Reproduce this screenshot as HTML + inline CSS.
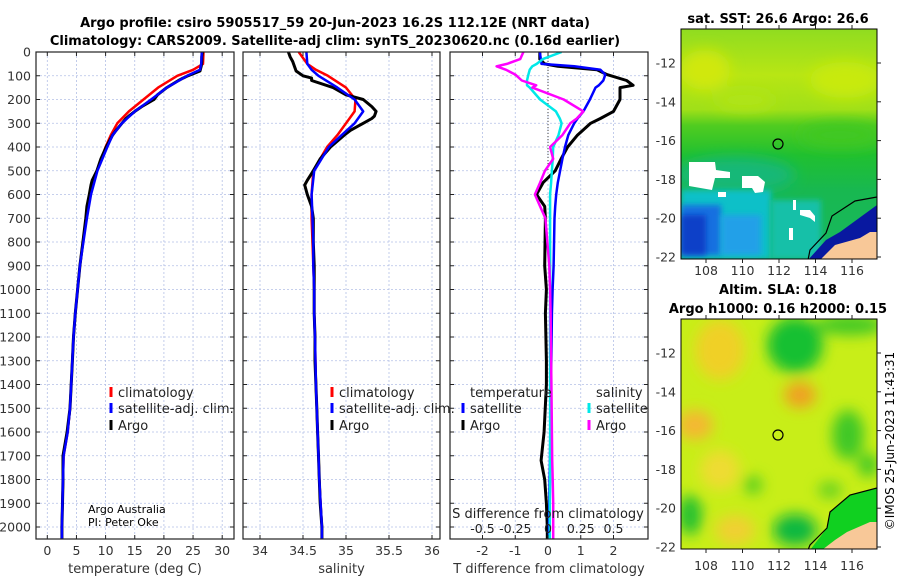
<!DOCTYPE html>
<html><head><meta charset="utf-8">
<style>
html,body{margin:0;padding:0;background:#fff;}
svg{display:block;font-family:"DejaVu Sans","Liberation Sans",sans-serif;}
</style></head>
<body>
<svg id="fig" width="900" height="580" viewBox="0 0 900 580" xmlns="http://www.w3.org/2000/svg">
<defs>
<filter id="blur6" x="-50%" y="-50%" width="200%" height="200%"><feGaussianBlur stdDeviation="7"/></filter>
<filter id="blur3" x="-50%" y="-50%" width="200%" height="200%"><feGaussianBlur stdDeviation="3"/></filter>
<linearGradient id="sstGrad" x1="0" y1="0" x2="0" y2="1">
<stop offset="0" stop-color="#90dc20"/>
<stop offset="0.2" stop-color="#b8e614"/>
<stop offset="0.35" stop-color="#a0e018"/>
<stop offset="0.42" stop-color="#50cc20"/>
<stop offset="0.55" stop-color="#20c030"/>
<stop offset="0.7" stop-color="#18b850"/>
<stop offset="1" stop-color="#18b860"/>
</linearGradient>
<clipPath id="clipTop"><rect x="681" y="29" width="196" height="230"/></clipPath>
<clipPath id="clipBot"><rect x="681" y="319" width="196" height="230"/></clipPath>
<clipPath id="clipP1"><rect x="36" y="52" width="198" height="487"/></clipPath>
<clipPath id="clipP2"><rect x="243" y="52" width="197" height="487"/></clipPath>
<clipPath id="clipP3"><rect x="450" y="52" width="198" height="487"/></clipPath>
</defs>
<text x="335" y="27" text-anchor="middle" font-size="13" font-weight="bold">Argo profile: csiro 5905517_59 20-Jun-2023 16.2S 112.12E (NRT data)</text>
<text x="335" y="45" text-anchor="middle" font-size="13" font-weight="bold">Climatology: CARS2009. Satellite-adj clim: synTS_20230620.nc (0.16d earlier)</text>
<g id="grids"></g>
<g id="series"></g>
<g id="axes"></g>

<!-- top map -->
<g>
<g clip-path="url(#clipTop)">
<rect x="681" y="29" width="196" height="230" fill="url(#sstGrad)"/>
<g filter="url(#blur6)">
<ellipse cx="705" cy="70" rx="25" ry="20" fill="#d0e810"/>
<ellipse cx="845" cy="80" rx="35" ry="18" fill="#c8ea10"/>
<ellipse cx="745" cy="100" rx="30" ry="10" fill="#b0e418"/>
<ellipse cx="735" cy="175" rx="60" ry="18" fill="#18b878"/>
<ellipse cx="840" cy="135" rx="40" ry="12" fill="#40c820"/>
</g>
<rect x="681" y="190" width="90" height="69" fill="#10c0c8" filter="url(#blur3)"/>
<rect x="681" y="205" width="40" height="50" fill="#1470e0" filter="url(#blur3)"/>
<rect x="721" y="215" width="40" height="40" fill="#20a0e8" filter="url(#blur3)"/>
<rect x="681" y="215" width="25" height="40" fill="#0a40c8" filter="url(#blur3)"/>
<rect x="771" y="200" width="50" height="59" fill="#18c0a8" filter="url(#blur3)"/>
<polygon points="877,205 877,260 808,260 826,240 840,232" fill="#0818a0"/>
<polygon points="877,232 877,260 820,260 835,245 860,238 870,232" fill="#f8c898"/>
<polyline points="877,197 855,201 832,216 826,233 810,250 808,260" fill="none" stroke="#000" stroke-width="1.2"/>
<polygon points="689,162 715,162 716,170 730,172 730,178 715,178 712,190 689,186" fill="#fff"/>
<polygon points="742,176 758,176 765,182 763,192 755,193 752,188 742,188" fill="#fff"/>
<rect x="718" y="192" width="8" height="5" fill="#fff"/>
<rect x="793" y="200" width="3" height="10" fill="#fff"/>
<polygon points="800,210 810,210 815,216 815,222 810,218 800,215" fill="#fff"/>
<rect x="789" y="228" width="4" height="12" fill="#fff"/>
<circle cx="778" cy="144" r="5" fill="none" stroke="#000" stroke-width="1.2"/>
</g>
<rect x="681" y="29" width="196" height="230" fill="none" stroke="#000" stroke-width="1"/>
<text x="778" y="23" text-anchor="middle" font-size="13" font-weight="bold">sat. SST: 26.6 Argo: 26.6</text>
</g>

<!-- bottom map -->
<g>
<g clip-path="url(#clipBot)">
<rect x="681" y="319" width="196" height="230" fill="#c8ee18"/>
<g filter="url(#blur6)">
<ellipse cx="720" cy="350" rx="25" ry="30" fill="#f0d028"/>
<ellipse cx="695" cy="425" rx="18" ry="15" fill="#f4b830"/>
<ellipse cx="800" cy="395" rx="16" ry="13" fill="#f0a020"/>
<ellipse cx="720" cy="470" rx="20" ry="20" fill="#eedc30"/>
<ellipse cx="735" cy="530" rx="20" ry="15" fill="#f0d030"/>
<ellipse cx="795" cy="345" rx="28" ry="28" fill="#18c030"/>
<ellipse cx="850" cy="325" rx="35" ry="10" fill="#40c828"/>
<ellipse cx="848" cy="435" rx="16" ry="25" fill="#40c828"/>
<ellipse cx="868" cy="465" rx="10" ry="12" fill="#40c828"/>
<ellipse cx="795" cy="530" rx="22" ry="16" fill="#10b840"/>
<ellipse cx="690" cy="515" rx="12" ry="20" fill="#20c030"/>
<ellipse cx="753" cy="485" rx="9" ry="9" fill="#50cc20"/>
<ellipse cx="830" cy="490" rx="12" ry="8" fill="#60d020"/>
</g>
<polygon points="877,488 850,495 830,512 827,528 810,550 877,550" fill="#10d020"/>
<polygon points="877,522 877,550 822,550 835,540 847,532 870,522" fill="#f8c898"/>
<polyline points="877,488 850,495 830,512 827,528 810,545 808,550" fill="none" stroke="#000" stroke-width="1.2"/>
<circle cx="778" cy="435" r="5" fill="none" stroke="#000" stroke-width="1.2"/>
</g>
<rect x="681" y="319" width="196" height="230" fill="none" stroke="#000" stroke-width="1"/>
<text x="778" y="294" text-anchor="middle" font-size="13" font-weight="bold">Altim. SLA: 0.18</text>
<text x="778" y="313" text-anchor="middle" font-size="13" font-weight="bold">Argo h1000: 0.16 h2000: 0.15</text>
</g>
<g id="mapticks"></g>
<text transform="translate(894,441) rotate(-90)" text-anchor="middle" font-size="12">©IMOS 25-Jun-2023 11:43:31</text>
</svg>
<script>
// ---- data ----
const depthTicks = [0,100,200,300,400,500,600,700,800,900,1000,1100,1200,1300,1400,1500,1600,1700,1800,1900,2000];
const tTicks = [0,5,10,15,20,25,30];
const sTicks = [34,34.5,35,35.5,36];
const dtTicks = [-2,-1,0,1,2];
const dsTicks = [-0.5,-0.25,0,0.25,0.5];
const dsTickLabels = ["-0.5","-0.25","0","0.25","0.5"];

const climDepth = [0,50,75,100,150,200,250,300,350,400,500,600,700,800,900,1000,1100,1200,1400,1500,1600,1700,1800,2000,2050];
const climTemp  = [26.8,26.7,25.0,22.3,19.0,16.5,14.0,12.0,10.9,10.0,8.5,7.4,6.7,6.1,5.6,5.2,4.8,4.5,4.1,3.9,3.5,2.8,2.7,2.5,2.5];
const satTemp   = [26.5,26.4,26.2,24.0,20.5,17.8,15.0,12.8,11.2,10.3,8.6,7.5,6.8,6.2,5.6,5.2,4.8,4.5,4.1,3.9,3.5,2.8,2.7,2.5,2.5];
const climSal   = [34.45,34.55,34.65,34.79,35.0,35.11,35.1,35.0,34.9,34.78,34.62,34.6,34.6,34.61,34.62,34.63,34.63,34.64,34.65,34.66,34.67,34.68,34.69,34.72,34.72];
const satSal    = [34.54,34.55,34.6,34.68,34.9,35.1,35.2,35.1,34.95,34.8,34.63,34.6,34.61,34.62,34.62,34.63,34.63,34.64,34.65,34.66,34.67,34.68,34.69,34.72,34.72];

const argoDepth = [0,20,40,60,80,100,110,120,150,180,200,230,250,270,280,300,330,350,400,450,500,540,560,600,650,700,800,900,1000,1100,1200,1300,1400,1500,1600,1700,1800,1900,2000,2050];
const argoTemp  = [26.6,26.5,26.5,26.4,26.2,24.1,23.3,22.5,20.5,18.9,18.3,16.2,15.0,14.0,13.5,12.8,11.8,11.2,10.1,9.2,8.5,7.7,7.5,7.2,6.8,6.6,6.1,5.6,5.2,4.8,4.5,4.3,4.1,3.9,3.4,2.7,2.7,2.6,2.5,2.5];
const argoSal   = [34.33,34.35,34.38,34.4,34.42,34.5,34.6,34.6,34.85,35.0,35.2,35.3,35.35,35.33,35.3,35.2,35.05,34.98,34.82,34.7,34.62,34.55,34.52,34.55,34.6,34.62,34.62,34.63,34.63,34.63,34.64,34.64,34.65,34.66,34.67,34.68,34.69,34.7,34.72,34.72];

const diffDepth = [0,30,50,60,75,95,120,140,150,200,250,280,300,350,400,450,500,550,600,650,700,900,1000,1100,1300,1400,1600,1720,1800,1900,2000,2050];
const argoDT    = [-0.25,-0.25,-0.1,0.3,1.5,1.8,2.4,2.6,2.2,2.2,2.0,1.6,1.3,0.9,0.6,0.4,0.22,-0.15,-0.35,-0.1,-0.08,-0.1,-0.05,-0.08,-0.05,-0.05,-0.12,-0.21,-0.1,-0.05,-0.02,-0.02];
const satDT     = [-0.25,-0.22,-0.2,0.8,1.6,1.75,1.69,1.55,1.45,1.28,1.08,0.9,0.8,0.62,0.52,0.44,0.37,0.3,0.25,0.22,0.2,0.17,0.14,0.12,0.1,0.09,0.07,0.06,0.05,0.04,0.03,0.03];
const satDS     = [0.104,-0.04,-0.086,-0.12,-0.14,-0.15,-0.16,-0.16,-0.14,-0.06,0.06,0.09,0.104,0.08,0.04,0.036,0.03,0.024,0.016,0.016,0.016,0.016,0.016,0.016,0.016,0.016,0.016,0.016,0.016,0.014,0.014,0.014];
const argoDS    = [-0.188,-0.212,-0.314,-0.392,-0.32,-0.25,-0.2,-0.09,-0.12,0.12,0.27,0.22,0.17,0.11,0.016,0.04,-0.024,-0.06,-0.1,-0.06,-0.02,0.01,0.016,0.02,0.024,0.026,0.03,0.032,0.036,0.04,0.04,0.04];

// ---- scales ----
const yD = d => 52 + d * 0.2375;
const xT = t => 47.3 + t * 5.83;
const xS = s => 260 + (s - 34) * 86;
const xDT = t => 548 + t * 32.75;
const xDS = s => 548 + s * 131;

const NS = "http://www.w3.org/2000/svg";
function mk(tag, attrs, parent) {
  const e = document.createElementNS(NS, tag);
  for (const k in attrs) e.setAttribute(k, attrs[k]);
  parent.appendChild(e);
  return e;
}
function txt(x, y, s, size, anchor, parent) {
  const t = mk("text", {x: x, y: y, "font-size": size, "text-anchor": anchor}, parent);
  t.textContent = s;
  return t;
}
const grids = document.getElementById("grids");
const series = document.getElementById("series");
const axes = document.getElementById("axes");

const panels = [
  {x0: 36, x1: 234, ticks: tTicks, fx: xT, labels: tTicks.map(String), title: "temperature (deg C)", name: "temperature-panel", clip: "clipP1"},
  {x0: 243, x1: 440, ticks: sTicks, fx: xS, labels: sTicks.map(String), title: "salinity", name: "salinity-panel", clip: "clipP2"},
  {x0: 450, x1: 648, ticks: dtTicks, fx: xDT, labels: dtTicks.map(String), title: "T difference from climatology", name: "difference-panel", clip: "clipP3"}
];
const yTop = 52, yBot = 539;

panels.forEach((p, pi) => {
  const g = mk("g", {}, grids);
  
  
  depthTicks.forEach(d => {
    mk("line", {x1: p.x0, x2: p.x1, y1: yD(d), y2: yD(d), stroke: "#b4c0e6", "stroke-width": 0.8, "stroke-dasharray": "2,2"}, g);
  });
  p.ticks.forEach(v => {
    mk("line", {x1: p.fx(v), x2: p.fx(v), y1: yTop, y2: yBot, stroke: "#b4c0e6", "stroke-width": 0.8, "stroke-dasharray": "2,2"}, g);
  });
  const a = mk("g", {}, axes);
  
  
  mk("rect", {x: p.x0, y: yTop, width: p.x1 - p.x0, height: yBot - yTop, fill: "none", stroke: "#222", "stroke-width": 1.2}, a);
  depthTicks.forEach(d => {
    mk("line", {x1: p.x0, x2: p.x0 + 4, y1: yD(d), y2: yD(d), stroke: "#222"}, a);
    mk("line", {x1: p.x1 - 4, x2: p.x1, y1: yD(d), y2: yD(d), stroke: "#222"}, a);
  });
  p.ticks.forEach((v, i) => {
    mk("line", {x1: p.fx(v), x2: p.fx(v), y1: yBot - 4, y2: yBot, stroke: "#222"}, a);
    mk("line", {x1: p.fx(v), x2: p.fx(v), y1: yTop, y2: yTop + 4, stroke: "#222"}, a);
    const t = txt(p.fx(v), 555, p.labels[i], 12.5, "middle", a);
    t.setAttribute('fill', '#333');
  });
  const tt = txt((p.x0 + p.x1) / 2, 573, p.title, 13, "middle", a);
  tt.setAttribute('fill', '#333');
  
  
});
// depth labels
depthTicks.forEach(d => {
  const t = txt(31, yD(d) + 4.5, String(d), 12.5, "end", axes);
  t.setAttribute('fill', '#333');
  
  
});
// S difference axis labels
dsTicks.forEach((v, i) => {
  const t = txt(xDS(v), 533, dsTickLabels[i], 12.5, "middle", axes);
  t.setAttribute('fill', '#222');
  
  
});
const sdt = txt(548, 518, "S difference from climatology", 13, "middle", axes);
sdt.setAttribute('fill', '#222');



function path(depths, vals, fx, color, w, name, clip) {
  const d = depths.map((dd, i) => (i ? "L" : "M") + fx(vals[i]).toFixed(1) + "," + yD(dd).toFixed(1)).join("");
  const p = mk("path", {d: d, fill: "none", stroke: color, "stroke-width": w, "stroke-linejoin": "round", "clip-path": "url(#" + clip + ")"}, series);
  
  
}
// zero line in diff panel
const zl = mk("line", {x1: xDT(0), x2: xDT(0), y1: yTop, y2: yD(500), stroke: "#444", "stroke-width": 1, "stroke-dasharray": "1,2"}, series);



path(climDepth, climTemp, xT, "#ff0000", 2.5, "temp-climatology-line", "clipP1");
path(argoDepth, argoTemp, xT, "#000", 3, "temp-argo-line", "clipP1");
path(climDepth, satTemp, xT, "#0000ff", 2.5, "temp-satellite-line", "clipP1");
path(climDepth, climSal, xS, "#ff0000", 2.5, "sal-climatology-line", "clipP2");
path(argoDepth, argoSal, xS, "#000", 3, "sal-argo-line", "clipP2");
path(climDepth, satSal, xS, "#0000ff", 2.5, "sal-satellite-line", "clipP2");
path(diffDepth, argoDT, xDT, "#000", 3, "tdiff-argo-line", "clipP3");
path(diffDepth, satDT, xDT, "#0000ff", 2.5, "tdiff-satellite-line", "clipP3");
path(diffDepth, satDS, xDS, "#00e8e8", 2.5, "sdiff-satellite-line", "clipP3");
path(diffDepth, argoDS, xDS, "#ff00ff", 2.5, "sdiff-argo-line", "clipP3");

// legends
function legEntry(mx, tx, y, color, label, name) {
  const g = mk("g", {}, axes);
  
  
  mk("rect", {x: mx - 1.5, y: y - 10, width: 3, height: 10, fill: color}, g);
  const t = txt(tx, y, label, 13, "start", g);
  t.setAttribute('fill', '#222');
}
legEntry(111, 118, 397, "#ff0000", "climatology", "legend-climatology");
legEntry(111, 118, 413, "#0000ff", "satellite-adj. clim.", "legend-satellite-adj");
legEntry(111, 118, 430, "#000", "Argo", "legend-argo");
legEntry(332, 339, 397, "#ff0000", "climatology", "legend-climatology-sal");
legEntry(332, 339, 413, "#0000ff", "satellite-adj. clim.", "legend-satellite-adj-sal");
legEntry(332, 339, 430, "#000", "Argo", "legend-argo-sal");
const lt = txt(470, 397, "temperature", 13, "start", axes); lt.setAttribute('fill', '#222');
const ls = txt(596, 397, "salinity", 13, "start", axes); ls.setAttribute('fill', '#222');
legEntry(463, 470, 413, "#0000ff", "satellite", "legend-t-satellite");
legEntry(463, 470, 430, "#000", "Argo", "legend-t-argo");
legEntry(589, 596, 413, "#00e8e8", "satellite", "legend-s-satellite");
legEntry(589, 596, 430, "#ff00ff", "Argo", "legend-s-argo");
const aa = txt(88, 513, "Argo Australia", 11, "start", axes);


txt(88, 526, "PI: Peter Oke", 11, "start", axes);

// map ticks
const mapLon = [108,110,112,114,116];
const mapLat = [-12,-14,-16,-18,-20,-22];
const lonX = lon => 779 + (lon - 112) * 18.25;
const mt = document.getElementById("mapticks");
[[29, 259, 63, 271], [319, 549, 353, 566]].forEach(([top, bot, lat12, labY], mi) => {
  mapLat.forEach((la, i) => {
    const y = lat12 + i * 38.8;
    mk("line", {x1: 877, x2: 881, y1: y, y2: y, stroke: "#222"}, mt);
    const t = txt(676, y + 4.5, String(la), 12.5, "end", mt);
    t.setAttribute('fill', '#333');
    
    
  });
  mapLon.forEach(lo => {
    mk("line", {x1: lonX(lo), x2: lonX(lo), y1: bot, y2: bot + 4, stroke: "#222"}, mt);
    mk("line", {x1: lonX(lo), x2: lonX(lo), y1: top - 4, y2: top, stroke: "#222"}, mt);
    const t = txt(lonX(lo), labY + 4, String(lo), 12.5, "middle", mt);
    t.setAttribute('fill', '#333');
    
    
  });
});
</script>
</body></html>
